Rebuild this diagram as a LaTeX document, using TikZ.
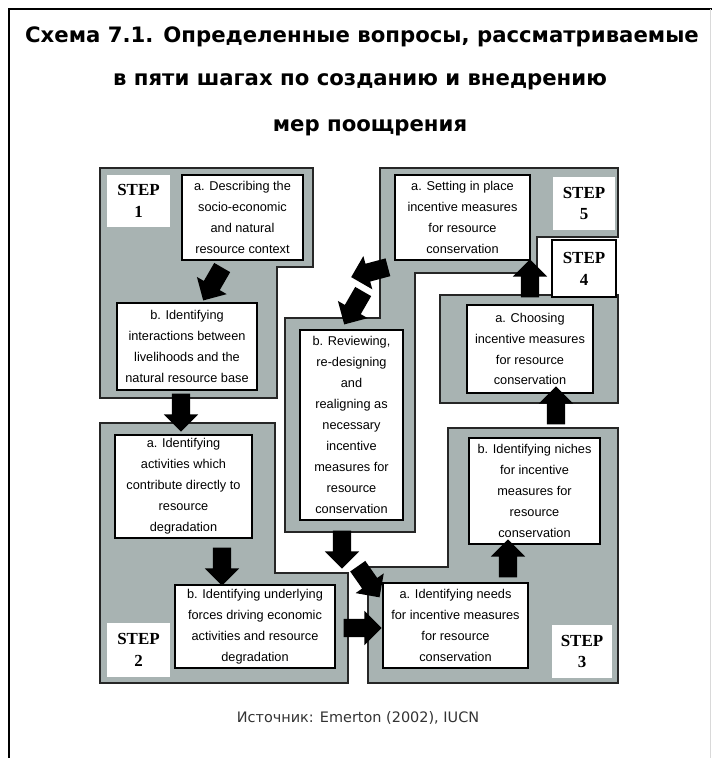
\documentclass[tikz,border=0pt]{standalone}
\usepackage{fontspec}
\usetikzlibrary{shapes.arrows}
\newfontfamily\titlefont{DejaVu Sans}
\newfontfamily\boxfont{Liberation Sans}
\newfontfamily\stepfont{Liberation Serif}
\definecolor{panelgray}{RGB}{168,179,178}
\begin{document}
\begin{tikzpicture}[x=1bp,y=-1bp,
  panel/.style={fill=panelgray, draw=black!85, line width=1.3bp},
  tbox/.style={draw=black, line width=1.2bp, fill=white, inner sep=0pt, align=center,
    font=\boxfont\fontsize{12.8}{21}\selectfont},
  stepbox/.style={fill=white, inner sep=0pt, align=center,
    font=\stepfont\bfseries\fontsize{17}{22}\selectfont},
  blob/.style={single arrow, fill=black, draw=none, inner xsep=2bp, inner ysep=9bp,
    single arrow head extend=8bp, minimum height=38bp},
  titletext/.style={font=\titlefont\bfseries\fontsize{21.3}{24}\selectfont, inner sep=0pt}
]
\useasboundingbox (0,0) rectangle (715,758);
\fill[white] (0,0) rectangle (715,758);
% frame
\draw[line width=1.5bp] (9,758) -- (9,9) -- (712,9);
\draw[black!15, line width=1bp] (710,9) -- (710,758);

% title
\node[titletext] (t1) at (362,37) {Схема 7.1. Определенные вопросы, рассматриваемые};
\node[titletext] (t2) at (360,82) {в пяти шагах по созданию и внедрению};
\node[titletext] (t3) at (370,128) {мер поощрения};

% panels
\draw[panel] (100,168) -- (313,168) -- (313,267) -- (277,267) -- (277,398) -- (100,398) -- cycle;
\draw[panel] (100,423) -- (275,423) -- (275,573) -- (348,573) -- (348,683) -- (100,683) -- cycle;
\draw[panel] (448,428) -- (618,428) -- (618,683) -- (368,683) -- (368,567) -- (448,567) -- cycle;
\draw[panel] (380,168) -- (618,168) -- (618,237) -- (537,237) -- (537,273) -- (415,273)
  -- (415,532) -- (285,532) -- (285,318) -- (380,318) -- cycle;
\draw[panel] (440,295) -- (618,295) -- (618,403) -- (440,403) -- cycle;

% step labels
\node[stepbox, minimum width=63bp, minimum height=52bp] (s1) at (138.5,201) {STEP\\1};
\node[stepbox, minimum width=63bp, minimum height=54bp] (s2) at (138.5,650) {STEP\\2};
\node[stepbox, minimum width=60bp, minimum height=53bp] (s3) at (582,651.5) {STEP\\3};
\node[stepbox, draw=black, line width=1.2bp, minimum width=64bp, minimum height=57bp] (s4) at (584,268.5) {STEP\\4};
\node[stepbox, minimum width=62bp, minimum height=53bp] (s5) at (584,203.5) {STEP\\5};

% boxes
\node[tbox, minimum width=121bp, minimum height=85bp] (b1a) at (242.5,217.5)
  {a. Describing the\\socio-economic\\and natural\\resource context};
\node[tbox, minimum width=140bp, minimum height=87bp] (b1b) at (187,346.5)
  {b. Identifying\\interactions between\\livelihoods and the\\natural resource base};
\node[tbox, minimum width=137bp, minimum height=103bp] (b2a) at (183.5,486.5)
  {a. Identifying\\activities which\\contribute directly to\\resource\\degradation};
\node[tbox, minimum width=160bp, minimum height=83bp] (b2b) at (255,626.5)
  {b. Identifying underlying\\forces driving economic\\activities and resource\\degradation};
\node[tbox, minimum width=131bp, minimum height=106bp] (b3b) at (534.5,491)
  {b. Identifying niches\\for incentive\\measures for\\resource\\conservation};
\node[tbox, minimum width=145bp, minimum height=85bp] (b3a) at (455.5,625.5)
  {a. Identifying needs\\for incentive measures\\for resource\\conservation};
\node[tbox, minimum width=126bp, minimum height=88bp] (b4a) at (530,349)
  {a. Choosing\\incentive measures\\for resource\\conservation};
\node[tbox, minimum width=135bp, minimum height=85bp] (b5a) at (462.5,217.5)
  {a. Setting in place\\incentive measures\\for resource\\conservation};
\node[tbox, minimum width=103bp, minimum height=190bp] (b5b) at (351.5,425)
  {b. Reviewing,\\re-designing\\and\\realigning as\\necessary\\incentive\\measures for\\resource\\conservation};

% arrow blobs
\node[blob, rotate=-120] (ar1) at (215,280) {};
\node[blob, rotate=-90] (ar2) at (181,408) {};
\node[blob, rotate=-90] (ar3) at (222,562) {};
\node[blob, rotate=0] (ar4) at (358,628) {};
\node[blob, rotate=90] (ar5) at (508,563) {};
\node[blob, rotate=90] (ar6) at (556,410) {};
\node[blob, rotate=90] (ar7) at (530,283) {};
\node[blob, rotate=195] (ar8) at (374,271) {};
\node[blob, rotate=-120] (ar9) at (356,304) {};
\node[blob, rotate=-90] (ar10) at (342,545) {};
\node[blob, rotate=-55] (ar11) at (366,578) {};

% source
\node[font=\titlefont\fontsize{14.5}{17}\selectfont, text=black!80, inner sep=0pt] (src) at (358,718)
  {Источник: Emerton (2002), IUCN};
\end{tikzpicture}
\end{document}
